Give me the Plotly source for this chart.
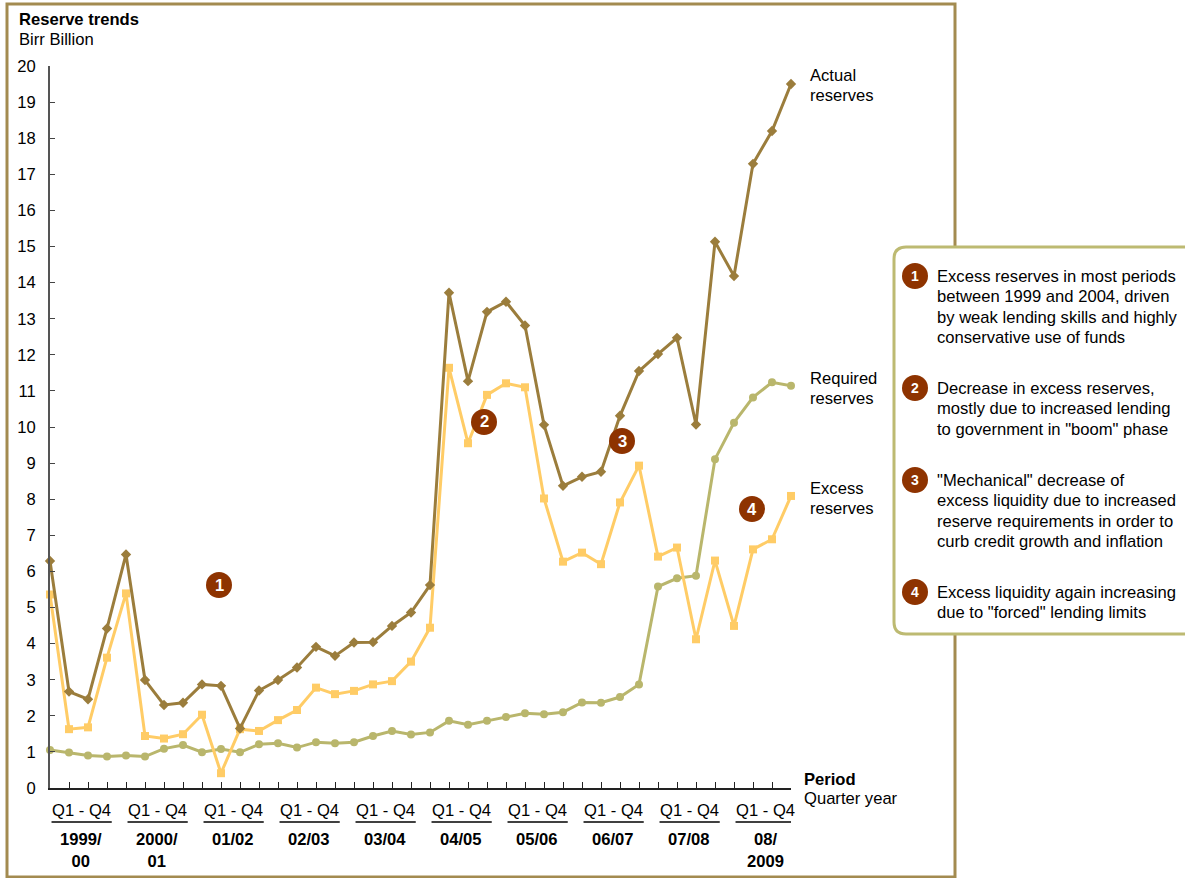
import plotly.graph_objects as go

# ---------------- data ----------------
quarters = [f"{y}-Q{q}" for y in range(10) for q in range(1, 5)]
year_labels = ["1999/<br>00", "2000/<br>01", "01/02", "02/03", "03/04",
               "04/05", "05/06", "06/07", "07/08", "08/<br>2009"]
quarter_group_label = "Q1 - Q4"

actual = [6.29, 2.67, 2.46, 4.42, 6.47, 2.99, 2.30, 2.36, 2.87, 2.83,
          1.65, 2.70, 2.99, 3.34, 3.91, 3.66, 4.03, 4.04, 4.49, 4.86,
          5.62, 13.72, 11.27, 13.19, 13.47, 12.81, 10.06, 8.37, 8.62, 8.76,
          10.31, 11.55, 12.02, 12.47, 10.07, 15.13, 14.18, 17.29, 18.20, 19.50]
excess = [5.36, 1.63, 1.68, 3.61, 5.39, 1.44, 1.37, 1.49, 2.03, 0.41,
          1.63, 1.58, 1.88, 2.16, 2.78, 2.60, 2.69, 2.87, 2.96, 3.50,
          4.44, 11.64, 9.55, 10.89, 11.21, 11.10, 8.02, 6.27, 6.52, 6.20,
          7.91, 8.93, 6.41, 6.66, 4.12, 6.30, 4.49, 6.61, 6.89, 8.09]
required = [1.05, 0.98, 0.90, 0.87, 0.90, 0.87, 1.09, 1.19, 0.99, 1.08,
            0.99, 1.21, 1.24, 1.12, 1.27, 1.24, 1.27, 1.44, 1.58, 1.48,
            1.54, 1.86, 1.75, 1.86, 1.97, 2.07, 2.04, 2.10, 2.37, 2.36,
            2.52, 2.87, 5.58, 5.81, 5.88, 9.11, 10.12, 10.82, 11.24, 11.14]

series_names = [["Actual", "reserves"], ["Required", "reserves"], ["Excess", "reserves"]]
callout_texts = [
    ["Excess reserves in most periods", "between 1999 and 2004, driven",
     "by weak lending skills and highly", "conservative use of funds"],
    ["Decrease in excess reserves,", "mostly due to increased lending",
     "to government in \"boom\" phase"],
    ["\"Mechanical\" decrease of", "excess liquidity due to increased",
     "reserve requirements in order to", "curb credit growth and inflation"],
    ["Excess liquidity again increasing", "due to \"forced\" lending limits"],
]
marker_numbers = ["1", "2", "3", "4"]

# ---------------- style ----------------
C_ACT = "#9b7d3c"
C_EXC = "#ffcc66"
C_REQ = "#b9b66c"
C_DOT = "#8e3300"
C_FRAME = "#a38b50"
C_BOX = "#bdba72"
FONT = "Liberation Sans, Arial, sans-serif"
FS = 16.6
LINE_H = 20.6

W_PX, H_PX = 1185, 878
L, R, T, B = 50, 791, 66, 788
PW, PH = R - L, B - T


def px(x):
    return (x - L) / PW


def py(y):
    return (B - y) / PH


xs = list(range(len(quarters)))

fig = go.Figure()
fig.add_trace(go.Scatter(x=xs, y=required, mode="lines+markers", name="Required",
                         line=dict(color=C_REQ, width=3),
                         marker=dict(symbol="circle", size=8, color=C_REQ),
                         cliponaxis=False))
fig.add_trace(go.Scatter(x=xs, y=excess, mode="lines+markers", name="Excess",
                         line=dict(color=C_EXC, width=3),
                         marker=dict(symbol="square", size=8, color=C_EXC),
                         cliponaxis=False))
fig.add_trace(go.Scatter(x=xs, y=actual, mode="lines+markers", name="Actual",
                         line=dict(color=C_ACT, width=3),
                         marker=dict(symbol="diamond", size=8, color=C_ACT),
                         cliponaxis=False))

shapes = []
annotations = []


def text_at(xp, yp, text, anchor="left", size=FS, color="black"):
    annotations.append(dict(xref="paper", yref="paper", x=px(xp), y=py(yp), text=text,
                            showarrow=False, xanchor=anchor, yanchor="middle",
                            font=dict(family=FONT, size=size, color=color)))


# outer frame
shapes.append(dict(type="rect", xref="paper", yref="paper",
                   x0=px(7), x1=px(955), y0=py(877), y1=py(4),
                   line=dict(color=C_FRAME, width=3), fillcolor="rgba(0,0,0,0)",
                   layer="below"))

# rounded callout box (drawn in paper coords)
bx0, bx1, by0, by1, r = 894, 1200, 247, 634, 12
path = (f"M {px(bx0 + r)},{py(by0)} L {px(bx1 - r)},{py(by0)} "
        f"Q {px(bx1)},{py(by0)} {px(bx1)},{py(by0 + r)} "
        f"L {px(bx1)},{py(by1 - r)} Q {px(bx1)},{py(by1)} {px(bx1 - r)},{py(by1)} "
        f"L {px(bx0 + r)},{py(by1)} Q {px(bx0)},{py(by1)} {px(bx0)},{py(by1 - r)} "
        f"L {px(bx0)},{py(by0 + r)} Q {px(bx0)},{py(by0)} {px(bx0 + r)},{py(by0)} Z")
shapes.append(dict(type="path", xref="paper", yref="paper", path=path,
                   line=dict(color=C_BOX, width=3), fillcolor="white", layer="below"))

# title
text_at(17, 20, "<b>Reserve trends</b>")
text_at(17, 40, "Birr Billion")

# x-axis title
text_at(802, 779, "<b>Period</b>")
text_at(802, 798, "Quarter year")

# category group labels
for k, yl in enumerate(year_labels):
    x0 = 4 * k
    annotations.append(dict(xref="x", yref="paper", x=x0 + 1.65, y=py(810),
                            text=quarter_group_label, showarrow=False,
                            xanchor="center", yanchor="middle",
                            font=dict(family=FONT, size=FS, color="black")))
    shapes.append(dict(type="line", xref="x", yref="paper", x0=x0 + 0.08, x1=x0 + 3.25,
                       y0=py(822), y1=py(822), line=dict(color="black", width=1.3)))
    annotations.append(dict(xref="x", yref="paper", x=x0 + 1.65, y=py(828),
                            text=f"<b>{yl}</b>", showarrow=False,
                            xanchor="center", yanchor="top",
                            font=dict(family=FONT, size=FS, color="black")))

# series end labels
for lines, y_first in zip(series_names, [75, 378, 488]):
    for i, ln in enumerate(lines):
        text_at(808, y_first + i * LINE_H, ln)


def numbered_dot(xp, yp):
    shapes.append(dict(type="circle", xref="paper", yref="paper",
                       xsizemode="pixel", ysizemode="pixel",
                       xanchor=px(xp), yanchor=py(yp), x0=-13, x1=13, y0=-13, y1=13,
                       fillcolor=C_DOT, line=dict(width=0), layer="above"))


# numbered markers in chart
for num, (xp, yp) in zip(marker_numbers, [(219, 585), (484, 422), (622, 441), (752, 509)]):
    numbered_dot(xp, yp)
    text_at(xp, yp, f"<b>{num}</b>", anchor="center", color="white")

# callout entries
for num, lines, yp in zip(marker_numbers, callout_texts, [276, 388, 480, 592]):
    numbered_dot(915, yp)
    text_at(915, yp, f"<b>{num}</b>", anchor="center", size=14, color="white")
    for i, ln in enumerate(lines):
        text_at(935, yp + i * LINE_H, ln)

fig.update_layout(
    width=W_PX, height=H_PX,
    margin=dict(l=L, r=W_PX - R, t=T, b=H_PX - B, pad=0),
    paper_bgcolor="white", plot_bgcolor="white",
    showlegend=False,
    font=dict(family=FONT, size=FS, color="black"),
    shapes=shapes, annotations=annotations,
    xaxis=dict(range=[0, len(quarters) - 1], tickvals=xs, showticklabels=False,
               ticks="inside", ticklen=6, tickcolor="#222", tickwidth=1.3,
               showline=True, linecolor="#222", linewidth=1.5,
               showgrid=False, zeroline=False),
    yaxis=dict(range=[0, 20], dtick=1, tick0=0, ticks="inside", ticklen=5,
               tickcolor="#444", tickwidth=1.3, showline=True, linecolor="#555",
               linewidth=2, showgrid=False, zeroline=False, ticklabelstandoff=9,
               tickfont=dict(family=FONT, size=FS, color="black")),
)

fig.write_html("out.html", config={"displayModeBar": False},
               post_script="document.body.style.margin='0';")
